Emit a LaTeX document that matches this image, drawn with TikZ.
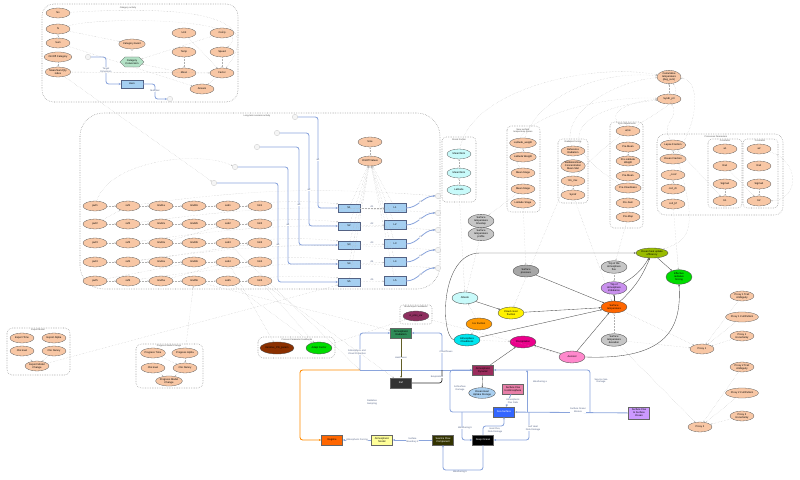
\documentclass[tikz,border=0pt]{standalone}
\usepackage{fontspec}
\setmainfont{Liberation Sans}
\usetikzlibrary{shapes.geometric,shapes.symbols,arrows.meta}

\definecolor{peach}{HTML}{F8C7A5}
\definecolor{flowblue}{HTML}{8AA4DC}
\definecolor{cellblue}{HTML}{A5CFF1}
\definecolor{mint}{HTML}{B3E2C6}
\definecolor{frost}{HTML}{C8FAFA}
\definecolor{olivegreen}{HTML}{99BB00}
\definecolor{brightgreen}{HTML}{00DD00}
\definecolor{lav}{HTML}{C990EE}
\definecolor{hotorange}{HTML}{FF6600}
\definecolor{amber}{HTML}{FF9900}
\definecolor{aqua}{HTML}{00E5EE}
\definecolor{rose}{HTML}{FF88CC}
\definecolor{berry}{HTML}{8E2F5F}
\definecolor{rust}{HTML}{8B3000}
\definecolor{teal2}{HTML}{2E8B57}
\definecolor{wine}{HTML}{9B2C5C}
\definecolor{pinkbox}{HTML}{E87FA8}
\definecolor{seablue}{HTML}{3366FF}
\definecolor{violet2}{HTML}{CC99FF}
\definecolor{darkolive}{HTML}{333300}
\definecolor{paleyellow}{HTML}{FFFF99}
\definecolor{lightsea}{HTML}{A9CFF0}

\begin{document}
\begin{tikzpicture}[x=0.03cm, y=-0.03cm,
    every node/.style={font=\fontsize{2.2}{2.6}\selectfont, align=center, inner sep=0.4pt},
    ent/.style={ellipse, draw=gray!75!black, line width=0.25pt, fill=peach, minimum width=0.72cm, minimum height=0.3cm},
    net/.style={ellipse, draw=black!70, line width=0.3pt, minimum width=0.78cm, minimum height=0.36cm},
    blk/.style={rectangle, draw=black!60, line width=0.3pt, minimum width=0.64cm, minimum height=0.3cm},
    cell/.style={rectangle, draw=flowblue!60!black, fill=cellblue, line width=0.3pt, minimum width=0.65cm, minimum height=0.24cm},
    conv/.style={signal, signal to=east and west, draw=gray!70!black, fill=mint, line width=0.25pt, minimum width=0.72cm, minimum height=0.3cm},
    port/.style={circle, draw=gray!50, fill=gray!8, line width=0.2pt, minimum size=0.16cm, inner sep=0pt},
    grp/.style={draw=gray!90, densely dotted, line width=0.45pt, rounded corners=0.25cm},
    grptitle/.style={font=\fontsize{1.9}{2.2}\selectfont, text=gray!60!black},
    dep/.style={draw=gray!62, densely dotted, line width=0.28pt, -{Stealth[length=1.3pt,width=1.1pt]}},
    flow/.style={draw=flowblue, line width=0.7pt, rounded corners=0.08cm, -{Stealth[length=2pt,width=1.8pt]}},
    lbl/.style={font=\fontsize{2}{2.4}\selectfont, text=flowblue!60!black, fill=white, inner sep=0.3pt},
    cause/.style={draw=black!70, line width=0.3pt, -{Stealth[length=1.6pt,width=1.4pt]}},
]
\useasboundingbox (0,0) rectangle (800,480);

% ---- category activity (top left) ----
\draw[grp, rounded corners=0.35cm] (42,4) rectangle (238,102);
\node[grptitle] at (128,8) {Category activity};
\node[ent] (ns)      at (58,13) {Ns};
\node[ent] (nn)      at (58,29) {N};
\node[ent] (sum)     at (58,43) {Sum};
\node[ent] (onoff)   at (58,57) {On/Off Category};
\node[ent] (msq)     at (58,72) {Mean/Sum/Qty\\index};
\node[ent] (catev)   at (132,44) {Category Event};
\node[conv] (catconv) at (132,62) {Category\\Conversion};
\node[ent] (unit)    at (184,33) {Unit};
\node[ent] (temp)    at (184,52) {Temp};
\node[ent] (mean)    at (184,73) {Mean};
\node[ent] (arrears) at (202,89) {Arrears};
\node[ent] (comp)    at (222,33) {Comp};
\node[ent] (speed)   at (222,52) {Speed};
\node[ent] (factor)  at (222,73) {Factor};
\node[cell] (hero)   at (132,84) {Hero};
\node[port] (pin)    at (88,57) {};
\node[port] (pout)   at (170,99) {};

\draw[flow] (pin) -- (106,57) -- (106,84) -- (hero);
\node[lbl] at (106,70) {Target\\Dimension};
\draw[flow] (hero) -- (155,84) -- (155,99) -- (pout);
\node[lbl] at (155,91) {Multiplier};

\draw[dep] (sum) -- (nn);
\draw[dep] (onoff) -- (msq);
\draw[dep] (nn) -- (catev);
\draw[dep] (catconv) -- (catev);
\draw[dep] (mean) -- (catconv);
\draw[dep] (unit) -- (factor);
\draw[dep] (speed) -- (factor);
\draw[dep] (comp) -- (catconv);
\draw[dep] (factor) -- (arrears);
\draw[dep] (temp) -- (mean);
\draw[dep] (msq) -- (factor);
\draw[dep] (sum) -- (arrears);
\draw[dep] (ns) .. controls (180,6) and (270,12) .. (factor);
\draw[dep] (nn) .. controls (100,16) and (262,18) .. (speed);

% ---- long-term scenario activity (middle left) ----
\draw[grp, rounded corners=0.7cm] (80,113) rectangle (440,289);
\node[grptitle] at (257,116) {Long-term scenario activity};
\node[port] (q1) at (295,117) {};
\node[port] (q2) at (277,133) {};
\node[port] (q3) at (257,147) {};
\node[port] (q4) at (235,167) {};
\node[port] (q5) at (214,183) {};
\node[ent] (sizev) at (370,142) {Size};
\node[ent] (onv)   at (370,161) {On/Off Values};
\draw[dep] (onv) -- (sizev);

\foreach \i/\y/\ys/\yl/\yp in {1/206/208/208/196, 2/224/226/225/213, 3/243/245/244/230, 4/262/264/262/250, 5/281/282/281/268} {
    \node[ent] (pre\i) at (95,\y) {pwf\i};
    \node[ent] (suf\i) at (128,\y) {sxf\i};
    \node[ent] (mnd\i) at (161,\y) {mnd\i a};
    \node[ent] (mxd\i) at (194,\y) {mnd\i b};
    \node[ent] (sub\i) at (228,\y) {sub\i};
    \node[ent] (lim\i) at (260,\y) {lim\i};
    \node[cell] (s\i) at (349,\ys) {S\i};
    \node[cell, minimum height=0.28cm] (l\i) at (395,\yl) {L\i};
    \node[port] (r\i) at (438,\yp) {};
    \draw[dep] (pre\i) -- (suf\i);
    \draw[dep] (suf\i) -- (mnd\i);
    \draw[dep] (mnd\i) -- (mxd\i);
    \draw[dep] (mxd\i) -- (sub\i);
    \draw[dep] (sub\i) -- (lim\i);
    \draw[dep] (lim\i.north east) to[bend left=4] (s\i.north west);
    \draw[dep] (s\i) -- node[lbl, above=0.3pt] {d\i} (l\i);
    \draw[dep] (l\i) -- (onv);
    \draw[dep] (s\i) -- (onv);
    \draw[dep] (suf\i) to[bend left=6] (r\i);
    \draw[flow] (l\i.east) to[out=0, in=180] node[lbl] {x\i} (r\i);
}
\draw[flow] (q1) -- (318,117) -- (318,208) -- (s1);
\draw[flow] (q2) -- (309,133) -- (309,226) -- (s2);
\draw[flow] (q3) -- (299,147) -- (299,245) -- (s3);
\draw[flow] (q4) -- (288,167) -- (288,264) -- (s4);
\draw[flow] (q5) -- (278,183) -- (278,282) -- (s5);
\node[lbl] at (318,160) {w1};
\node[lbl] at (309,190) {w2};
\node[lbl] at (299,205) {w3};
\node[lbl] at (288,225) {w4};
\node[lbl] at (278,245) {w5};
\draw[dep] (pre2) -- (suf1);
\draw[dep] (mnd3) -- (sub2);
\draw[dep] (pre5) -- (mxd4);
\draw[dep] (suf4) -- (lim3);
\draw[dep] (mnd5) -- (sub4);
\draw[dep] (msq) -- (q5);
\draw[dep] (pre1) .. controls (110,160) and (200,150) .. (q4);

% ---- shock frontier ----
\draw[grp, rounded corners=0.12cm] (442,137) rectangle (476,202);
\node[grptitle] at (459,140) {Shock frontier};
\node[ent, fill=frost] (sf1) at (459,154) {Mean/Nom};
\node[ent, fill=frost] (sf2) at (459,173) {Mean/Nom};
\node[ent, fill=frost] (sf3) at (459,190) {Latitude};
\draw[dep] (sf2) -- (sf1);
\draw[dep] (sf3) -- (sf2);

% ---- near-surface temperature pieces ----
\draw[grp, rounded corners=0.12cm] (507,126) rectangle (540,212);
\node[grptitle] at (523,131) {Near-surface\\temperature pieces};
\node[ent] (nt1) at (523,143) {Latitude\_weight};
\node[ent] (nt2) at (523,157) {Latitude Weight};
\node[ent] (nt3) at (523,173) {Mean Stage};
\node[ent] (nt4) at (523,189) {Mean Stage};
\node[ent] (nt5) at (523,203) {Latitude Stage};
\draw[dep] (nt2) -- (nt1);

% ---- radiation forcing ----
\draw[grp, rounded corners=0.12cm] (558,139) rectangle (588,203);
\node[grptitle] at (573,142) {Radiation forcing};
\node[ent] (rd1) at (573,151) {Reference\\Radiation};
\node[ent] (rd2) at (573,166) {Radiation/Gas\\Concentration\\Mean Stat};
\node[ent] (rd3) at (573,181) {Rn\_mix};
\node[ent] (rd4) at (573,195) {Syndr};
\draw[dep] (rd3) -- (rd4);

% ---- prior adjustments ----
\draw[grp, rounded corners=0.12cm] (610,122) rectangle (643,228);
\node[grptitle] at (627,124) {Prior Adjustments};
\node[ent] (pa1) at (628,131) {emis};
\node[ent] (pa2) at (628,147) {Pre-Mean};
\node[ent] (pa3) at (628,161) {Pre-Latitude\\Weight};
\node[ent] (pa4) at (628,176) {Pre-Mean};
\node[ent] (pa5) at (628,188) {Pre-Cloudiness};
\node[ent] (pa6) at (628,203) {Pre-Sum};
\node[ent] (pa7) at (628,217) {Pre-Map};
\draw[dep] (pa2) -- (pa3);

% ---- process parameters ----
\draw[grp, rounded corners=0.25cm] (657,134) rectangle (783,215);
\node[grptitle] at (716,137) {Processes Parameters};
\node[ent] (lapse) at (673,145) {Lapse Fraction};
\node[ent] (ocfr)  at (673,159) {Ocean Fraction};
\node[ent] (cco)   at (673,175) {\_cco2};
\node[ent] (cch)   at (673,189) {co2\_ch};
\node[ent] (cbf)   at (673,204) {co2\_bf};
\draw[dep] (ocfr) -- (lapse);
\draw[dep] (cch) -- (cco);
\draw[grp, rounded corners=0.12cm] (708,139) rectangle (742,208);
\node[grptitle] at (725,141) {Constants};
\draw[grp, rounded corners=0.12cm] (743,139) rectangle (778,208);
\node[grptitle] at (760,141) {Constants};
\foreach \c/\x in {1/725, 2/759} {
    \node[ent] (ca\c) at (\x,149) {a\c};
    \node[ent] (cr\c) at (\x,166) {Ra\c};
    \node[ent] (cs\c) at (\x,184) {Sigma\c};
    \node[ent] (cb\c) at (\x,201) {b\c};
    \draw[dep] (cs\c) -- (cb\c);
}
\draw[dep] (ca2) .. controls (800,160) and (800,200) .. (cb2);
\draw[dep] (lapse) -- (cb1);
\draw[dep] (cr1) -- (cb2);

% ---- cumulative temperature ----
\node[ent] (cumt)  at (669,77) {Cumulative\\temperature\\(deg\_sum)};
\node[ent] (syndr) at (669,99) {Syndr\_prt};
\draw[dep] (syndr) -- (cumt);
\draw[dep] (nt1) .. controls (540,95) and (600,70) .. (cumt);
\draw[dep] (rd1) .. controls (560,110) and (620,80) .. (cumt);
\draw[dep] (pa1) .. controls (600,110) and (640,100) .. (syndr);
\draw[dep] (lapse) .. controls (660,120) and (680,120) .. (syndr);
\draw[dep] (ocfr) .. controls (700,120) and (700,80) .. (cumt);
\draw[dep] (sf1) .. controls (470,90) and (590,62) .. (cumt);
\draw[dep] (nt3) .. controls (490,120) and (600,95) .. (syndr);
\draw[dep] (rd3) .. controls (620,120) and (690,110) .. (cumt);
\draw[dep] (pa5) .. controls (560,150) and (560,110) .. (syndr);

% ---- export / progress models ----
\draw[grp, rounded corners=0.15cm] (7,328) rectangle (70,375);
\node[grptitle] at (38,330) {Export Model};
\node[ent] (ext) at (22,338) {Export Time};
\node[ent] (exa) at (54,338) {Export Alpha};
\node[ent] (exc) at (22,351) {Clio level};
\node[ent] (exn) at (54,351) {Clio Nanny};
\node[ent] (emc) at (37,366) {Export Model\\Change};
\draw[dep] (exc) -- (emc);
\draw[dep] (exn) -- (emc);
\draw[dep] (emc) -- (s5);

\draw[grp, rounded corners=0.15cm] (136,344) rectangle (203,388);
\node[grptitle] at (169,346) {Progress Model Change};
\node[ent] (prt) at (153,353) {Progress Time};
\node[ent] (pra) at (185,353) {Progress Alpha};
\node[ent] (prc) at (153,368) {Clio level};
\node[ent] (prn) at (185,368) {Clio Nanny};
\node[ent] (pmc) at (169,381) {Progress Model\\Change};
\draw[dep] (prt) -- (prn);
\draw[dep] (pra) -- (prn);
\draw[dep] (prc) -- (pmc);
\draw[dep] (prn) -- (pmc);
\draw[dep] (pra) -- (mxd5);

% ---- parameter feedbacks ----
\draw[grp, rounded corners=0.15cm] (258,337) rectangle (335,358);
\node[grptitle] at (297,340) {Process Parameter Feedbacks};
\node[net, fill=rust] (itphi) at (277,348) {Iterative\_Phi\_param};
\node[net, fill=brightgreen] (adapt) at (319,348) {Adapt Factor};
\draw[dep] (sub4) -- (itphi);
\draw[dep] (lim5) -- (adapt);
\draw[dep] (sub5) -- (adapt);

\draw[grp, rounded corners=0.08cm] (400,305) rectangle (432,324);
\node[grptitle] at (416,307) {Model Input Feedbacks};
\node[net, fill=berry, minimum height=0.3cm] (ciems) at (416,316) {ci\_ems\_var};
\draw[dep] (adapt) -- (ciems);

% ---- climate core ----
\node[net, fill=gray!45] (gt1) at (481,221) {Surface\\temperature\\timestep};
\node[net, fill=gray!45] (gt2) at (481,234) {Surface\\temperature\\profile};
\node[net, fill=olivegreen, minimum width=0.82cm, minimum height=0.3cm] (ocheat) at (652,253) {Ocean heat uptake\\efficiency};
\node[net, fill=brightgreen, minimum height=0.44cm] (erf) at (679,277) {Effective\\radiative\\forcing};
\node[net, fill=gray!70] (spress) at (526,271) {Surface\\pressure};
\node[net, fill=gray!45] (toaf)  at (614,267) {Top of the\\atmosphere\\flux};
\node[net, fill=lav]     (toai)  at (614,288) {Top of\\atmosphere\\imbalance};
\node[net, fill=hotorange] (stemp) at (614,307) {Surface\\temperature};
\node[net, fill=frost]   (albedo) at (465,298) {Albedo};
\node[net, fill=yellow]  (cloud) at (511,313) {Cloud cover\\fraction};
\node[net, fill=amber]   (icefr) at (479,324) {Ice fraction};
\node[net, fill=aqua]    (atmc)  at (467,340) {Atmosphere\\Cloudiness};
\node[net, fill=magenta] (precip) at (523,342) {Precipitation};
\node[net, fill=gray!45] (stdev) at (614,340) {Surface\\temperature\\deviation};
\node[net, fill=rose]    (aero)  at (572,357) {Aerosol};

\draw[cause] (spress) -- (stemp);
\draw[cause] (cloud) -- (stemp);
\draw[cause] (albedo) -- (cloud);
\draw[cause] (atmc) -- (stemp);
\draw[cause] (aero) -- (precip);
\draw[cause] (aero) -- (stemp);
\draw[cause] (stemp) -- (toai);
\draw[cause] (toai) to[bend right=15] (ocheat);
\draw[cause] (stemp) to[bend right=12] (ocheat);
\draw[cause] (ocheat) -- (erf);
\draw[cause] (aero.east) .. controls (665,360) and (682,330) .. (erf.south);
\draw[cause] (atmc.west) .. controls (440,335) and (440,253) .. (480,253) -- (ocheat.west);
\draw[dep] (toaf) -- (toai);
\draw[dep] (stdev) -- (stemp);
\draw[dep] (icefr) -- (albedo);
\draw[dep] (gt1) -- (gt2);
\draw[dep] (gt2) -- (albedo);
\draw[dep] (sf3) -- (albedo);
\draw[dep] (icefr) -- (atmc);
\draw[dep] (atmc) -- (precip);
\draw[dep] (pa7) -- (toaf);
\draw[dep] (nt5) -- (spress);
\draw[dep] (rd4) -- (stemp);
\draw[dep] (cbf) -- (erf);
\draw[dep] (lapse) .. controls (700,230) and (690,240) .. (ocheat);
\draw[dep] (nt4) -- (gt1);
\draw[dep] (rd2) -- (cloud);
\draw[dep] (ciems) -- (aero);

% ---- proxies ----
\node[ent] (px1)  at (702,349) {Proxy 1};
\node[ent] (px1a) at (742,296) {Proxy 1 Trait\\Ambiguity};
\node[ent] (px1b) at (742,317) {Proxy 1 Cut/Pattern};
\node[ent] (px1c) at (742,336) {Proxy 1\\Uncertainty};
\node[ent] (px2)  at (700,427) {Proxy 2};
\node[ent] (px2a) at (742,367) {Proxy 2 Trait\\Ambiguity};
\node[ent] (px2b) at (742,393) {Proxy 2 Cut/Pattern};
\node[ent] (px2c) at (742,416) {Proxy 2\\Uncertainty};
\draw[dep] (px1a) -- (px1);
\draw[dep] (px1b) -- (px1);
\draw[dep] (px1c) -- (px1);
\draw[dep] (px2a) -- (px2);
\draw[dep] (px2b) -- (px2);
\draw[dep] (px2c) -- (px2);
\draw[dep] (stdev) -- (px1);
\draw[dep] (stdev) -- (px2);
\draw[dep] (stemp) -- (px1);

% ---- component blocks ----
\node[blk, fill=teal2] (atmrad) at (401,333) {Atmospheric\\Radiation};
\node[blk, fill=black!80, text=white] (refr) at (401,383) {Ref};
\node[blk, fill=hotorange] (regime) at (332,440) {Regime};
\node[blk, fill=paleyellow] (atmmodel) at (382,440) {Atmospheric\\Model};
\node[blk, fill=darkolive, text=white] (icecomp) at (443,440) {Sea/Ice Flow\\Component};
\node[blk, fill=black, text=white] (deepoc) at (483,440) {Deep Ocean};
\node[blk, fill=wine] (atmdyn) at (483,370) {Atmospheric\\Dynamic};
\node[blk, fill=pinkbox] (surfatm) at (513,389) {Surface Flux\\to Atmosphere};
\node[blk, fill=seablue, text=white] (seasurf) at (504,412) {Sea Surface};
\node[blk, fill=violet2, minimum height=0.36cm] (surfoc) at (639,413) {Surface Flux\\to Surface\\Ocean};
\node[net, fill=lightsea, minimum height=0.32cm] (ohus) at (482,393) {Ocean Heat\\Uptake Storage};

\coordinate (ja) at (360,370);
\coordinate (jb) at (442,370);
\coordinate (jc) at (590,412);
\coordinate (jd) at (527,412);
\coordinate (je) at (462,412);
\coordinate (jf) at (529,412);

\draw[flow, -] (atmdyn.west) -- (ja);
\draw[flow] (ja) -- (360,333) -- (atmrad.west);
\draw[flow] (jb) -- (442,333) -- (atmrad.east);
\draw[flow, draw=amber!90!red] (ja) -- (300,370) -- (300,440) -- (regime);
\node[lbl] at (357,352) {Atmospheric and\\Cloud Properties};
\node[lbl] at (446,352) {Cloud fluxes};
\draw[cause, draw=olive!60!black] (atmrad) -- node[lbl] {Heat fluxes} (refr);
\draw[line width=0.6pt, black!80, rounded corners=0.08cm] (refr.east) -- (442,383) -- (jb);
\node[lbl] at (437,377) {Evaporation};
\node[lbl] at (372,402) {Radiative\\Sampling};
\draw[flow] (icecomp) -- node[lbl] {Surface\\Boundary 2} (atmmodel);
\draw[flow] (atmmodel) -- node[lbl] {Atmospheric Forcing} (regime);

\draw[flow] (seasurf.west) -- (450,412) -- (450,370) -- (atmdyn.west);
\draw[flow] (jc) -- (590,370) -- (atmdyn.east);
\draw[flow] (jd) -- (527,370);
\draw[flow] (surfoc) -- (seasurf);
\draw[flow] (surfatm) -- (seasurf);
\draw[cause, draw=gray!70!black] (atmdyn) -- (ohus);
\draw[cause] (atmdyn) -- (precip);
\node[lbl] at (460,388) {Air/Surface\\Damage};
\node[lbl] at (540,382) {Weathering a};
\node[lbl] at (601,381) {Sea-Ice Sea\\Damage};
\node[lbl] at (578,410) {Surface Ocean\\Mixture};
\node[lbl] at (513,401) {Atmospheric\\Flux Data};

\draw[flow] (je) -- (462,440) -- (deepoc.west);
\draw[flow] (jf) -- (529,440) -- (deepoc.east);
\draw[flow] (deepoc.north) -- (483,426) -- (504,426) -- (seasurf.south);
\draw[flow] (deepoc.south) -- (483,470) -- (443,470) -- (icecomp.south);
\node[lbl] at (465,428) {Weathering b};
\node[lbl] at (495,430) {Heat Flux,\\Data Damage};
\node[lbl] at (533,428) {Surf Heat\\Data Damage};
\node[lbl] at (460,472) {Weathering b};

\draw[dep] (lim5) -- (refr);
\draw[dep] (mxd5) -- (atmrad);
\draw[dep] (sub3) -- (ja);
\end{tikzpicture}
\end{document}
